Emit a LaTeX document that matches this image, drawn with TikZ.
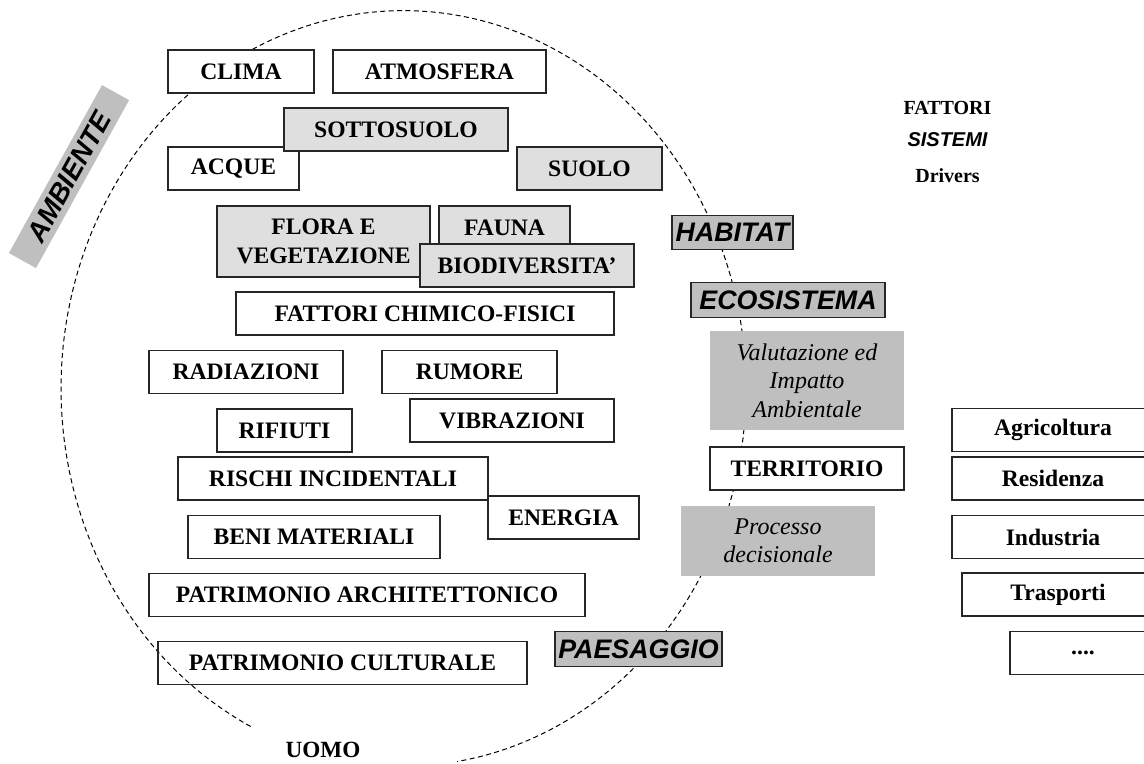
\documentclass[tikz,border=0pt]{standalone}
\usepackage{fontspec}
\setmainfont{Liberation Serif}
\newfontfamily\arialfont{Liberation Sans}

\begin{document}
\begin{tikzpicture}[x=0.5pt,y=-0.5pt,
    voce/.style={draw=black!85,line width=0.6pt,fill=white,inner sep=0pt,minimum height=21.5pt,
      font=\fontsize{11.8}{14.2}\selectfont\bfseries,align=center},
    vocegr/.style={voce,fill=gray!25},
    sistema/.style={draw=black!85,line width=0.6pt,fill=gray!50,inner sep=0pt,minimum height=17.25pt,
      font=\arialfont\fontsize{13.4}{15}\selectfont\bfseries\itshape},
    nota/.style={fill=gray!50,inner sep=0pt,align=center,font=\fontsize{12}{14.2}\selectfont\itshape},
    cerchio/.style={dash pattern=on 2.5pt off 1.7pt,line width=0.5pt}]

  \clip (0,0) rectangle (1144,764);

  % confine dell'ambiente
  \draw[cerchio] plot[domain=116.5:441,samples=200] ({403.5+342.5*cos(\x)},{388.4+377.8*sin(\x)});

  \node[fill=gray!50,rotate=61,minimum width=96pt,minimum height=15.5pt,inner sep=0pt,
    font=\arialfont\fontsize{13.8}{15}\selectfont\bfseries\itshape] (AMB) at (69,176.6) {AMBIENTE};

  % fattori
  \node[voce,minimum width=73pt] (CLI) at (241,71.5) {CLIMA};
  \node[voce,minimum width=106.5pt] (ATM) at (439.5,71.5) {ATMOSFERA};
  \node[voce,minimum width=65.5pt] (ACQ) at (233.5,168.5) {ACQUE};
  \node[vocegr,minimum width=112pt] (SOT) at (396,129.5) {SOTTOSUOLO};
  \node[vocegr,minimum width=72.5pt] (SUO) at (589.5,168.5) {SUOLO};
  \node[vocegr,minimum width=106.5pt,minimum height=35.5pt] (FLO) at (323.5,241.5) {FLORA E\\VEGETAZIONE};
  \node[vocegr,minimum width=65.5pt] (FAU) at (504.5,227.5) {FAUNA};
  \node[vocegr,minimum width=107pt] (BIO) at (527,265.5) {BIODIVERSITA'};
  \node[voce,minimum width=189pt] (CHI) at (425,313.5) {FATTORI CHIMICO-FISICI};
  \node[voce,minimum width=97pt] (RAD) at (246,372) {RADIAZIONI};
  \node[voce,minimum width=87.5pt] (RUM) at (469.5,372) {RUMORE};
  \node[voce,minimum width=102pt] (VIB) at (512,420.5) {VIBRAZIONI};
  \node[voce,minimum width=67.5pt] (RIF) at (284.5,430.5) {RIFIUTI};
  \node[voce,minimum width=155pt] (RIS) at (333,478.5) {RISCHI INCIDENTALI};
  \node[voce,minimum width=75.5pt] (ENE) at (563.5,517.5) {ENERGIA};
  \node[voce,minimum width=126pt] (BEN) at (314,537) {BENI MATERIALI};
  \node[voce,minimum width=218pt] (PAR) at (367,595) {PATRIMONIO ARCHITETTONICO};
  \node[voce,fill=none,minimum width=184.5pt] (PCU) at (342.5,663) {PATRIMONIO CULTURALE};
  \node[font=\fontsize{11.6}{14}\selectfont\bfseries] (UOM) at (323,750) {UOMO};

  % sistemi
  \node[sistema,minimum width=60.5pt] (HAB) at (732.5,232.5) {HABITAT};
  \node[sistema,minimum width=97pt] (ECO) at (788,300) {ECOSISTEMA};
  \node[nota,minimum width=97pt,minimum height=49.5pt] (VIA) at (807,380.5) {Valutazione ed\\Impatto\\Ambientale};
  \node[voce,minimum width=97pt] (TER) at (807,468.5) {TERRITORIO};
  \node[nota,minimum width=97pt,minimum height=35pt] (PRO) at (778,541) {Processo\\decisionale};
  \node[sistema,minimum width=83.5pt] (PAE) at (638.5,649) {PAESAGGIO};

  % legenda
  \node[font=\fontsize{10}{12}\selectfont\bfseries] (FAT) at (947.5,108) {FATTORI};
  \node[font=\arialfont\fontsize{10}{12}\selectfont\bfseries\itshape] (SIS) at (947.5,140) {SISTEMI};
  \node[font=\fontsize{10}{12}\selectfont\bfseries] (DRI) at (947.5,176) {Drivers};

  % drivers
  \node[voce,minimum width=101pt] (AGR) at (1053,430) {Agricoltura};
  \node[voce,minimum width=101pt] (RES) at (1053,478.5) {Residenza};
  \node[voce,minimum width=101pt] (IND) at (1053,537) {Industria};
  \node[voce,minimum width=96pt] (TRA) at (1058,594.5) {Trasporti};
  \node[voce,minimum width=73pt] (ALT) at (1083,653) {....};
\end{tikzpicture}
\end{document}
